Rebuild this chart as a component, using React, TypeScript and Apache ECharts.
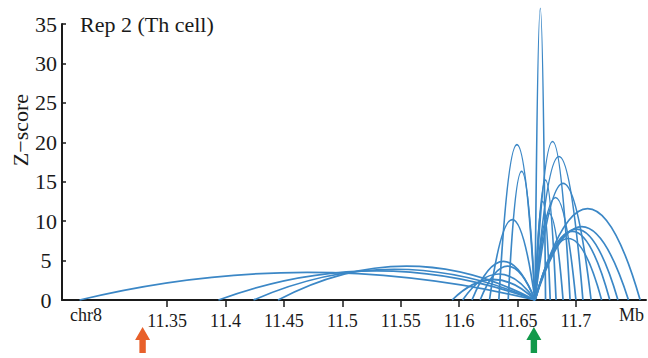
import React, { useEffect, useRef } from 'react';
import * as echarts from 'echarts';

// Anchor (viewpoint) position in Mb and the interacting partner ends
const anchorMb = 11.665;
const partnerMb = [
  11.275, 11.394, 11.424, 11.445, 11.594, 11.603, 11.611, 11.618, 11.626, 11.634, 11.642,
  11.674, 11.678, 11.683, 11.689, 11.695, 11.7, 11.706, 11.713, 11.722, 11.729, 11.736, 11.745, 11.755,
];
const zScores = [
  3.5, 3.7, 3.9, 4.3, 2.6, 3.3, 4.9, 4.3, 10.2, 19.7, 16.3,
  37.0, 12.5, 15.2, 11.0, 20.1, 13.0, 18.2, 14.8, 7.8, 8.7, 9.0, 9.3, 11.6,
];
const xTicks = [11.35, 11.4, 11.45, 11.5, 11.55, 11.6, 11.65, 11.7];
const arrowMb = [11.329, 11.664];
const arrowColors = ['#e8602a', '#12994a'];

const FONT = "'Liberation Serif', serif";

export default function App() {
  const ref = useRef<HTMLDivElement>(null);
  useEffect(() => {
    if (!ref.current) return;
    const chart = echarts.init(ref.current, undefined, { renderer: 'svg' });
    const arcData = partnerMb.map((b, i) => [b, zScores[i]]);
    const arrowData = arrowMb.map((v, i) => [v, i]);
    chart.setOption({
      animation: false,
      backgroundColor: '#ffffff',
      grid: { left: 62, right: 2, top: 24, bottom: 58, containLabel: false },
      xAxis: {
        type: 'value',
        min: 11.26,
        max: 11.76,
        axisLine: { show: true, lineStyle: { color: '#1a1a1a', width: 2 } },
        axisTick: { show: true, customValues: xTicks, length: 7, inside: false, lineStyle: { color: '#1a1a1a', width: 1.5 } },
        axisLabel: {
          customValues: xTicks,
          formatter: (v: number) => String(v),
          fontFamily: 'Liberation Serif',
          fontSize: 18,
          color: '#1a1a1a',
          margin: 12,
        },
        splitLine: { show: false },
      },
      yAxis: {
        type: 'value',
        min: 0,
        max: 35,
        interval: 5,
        axisLine: { show: true, lineStyle: { color: '#1a1a1a', width: 2 } },
        axisTick: { show: true, inside: true, length: 4, lineStyle: { color: '#1a1a1a', width: 1.5 } },
        axisLabel: {
          fontFamily: 'Liberation Serif',
          fontSize: 22,
          color: '#1a1a1a',
          align: 'center',
          margin: 16,
        },
        splitLine: { show: false },
      },
      graphic: [
        {
          type: 'text',
          x: 80,
          y: 24,
          style: { text: 'Rep 2 (Th cell)', font: `22px ${FONT}`, fill: '#1a1a1a', align: 'left', verticalAlign: 'middle' },
        },
        {
          type: 'text',
          x: 20,
          y: 130,
          rotation: Math.PI / 2,
          style: { text: 'Z\u2212score', font: `22px ${FONT}`, fill: '#1a1a1a', align: 'center', verticalAlign: 'middle' },
        },
        {
          type: 'text',
          x: 70,
          y: 306,
          style: { text: 'chr8', font: `18px ${FONT}`, fill: '#1a1a1a', align: 'left', verticalAlign: 'top' },
        },
        {
          type: 'text',
          x: 644,
          y: 306,
          style: { text: 'Mb', font: `18px ${FONT}`, fill: '#1a1a1a', align: 'right', verticalAlign: 'top' },
        },
      ],
      series: [
        {
          type: 'custom',
          clip: false,
          data: arcData,
          renderItem: (params: any, api: any) => {
            const b = api.value(0);
            const z = api.value(1);
            const p0 = api.coord([anchorMb, 0]);
            const p1 = api.coord([b, 0]);
            const cp = api.coord([(anchorMb + b) / 2, 2 * z]);
            return {
              type: 'bezierCurve',
              shape: { x1: p0[0], y1: p0[1], x2: p1[0], y2: p1[1], cpx1: cp[0], cpy1: cp[1] },
              style: { stroke: '#3b87c6', lineWidth: 1.7, fill: 'none' },
            };
          },
        },
        {
          type: 'custom',
          clip: false,
          data: arrowData,
          renderItem: (params: any, api: any) => {
            const p = api.coord([api.value(0), 0]);
            const x = p[0];
            const y = p[1];
            const idx = api.value(1);
            return {
              type: 'polygon',
              shape: {
                points: [
                  [x, y + 27],
                  [x + 7.5, y + 40],
                  [x + 3.2, y + 40],
                  [x + 3.2, y + 53],
                  [x - 3.2, y + 53],
                  [x - 3.2, y + 40],
                  [x - 7.5, y + 40],
                ],
              },
              style: { fill: arrowColors[idx] },
            };
          },
        },
      ],
    });
    return () => chart.dispose();
  }, []);
  return (
    <div
      ref={ref}
      style={{ position: 'fixed', left: 0, top: 0, width: 648, height: 358, background: '#fff' }}
    />
  );
}
